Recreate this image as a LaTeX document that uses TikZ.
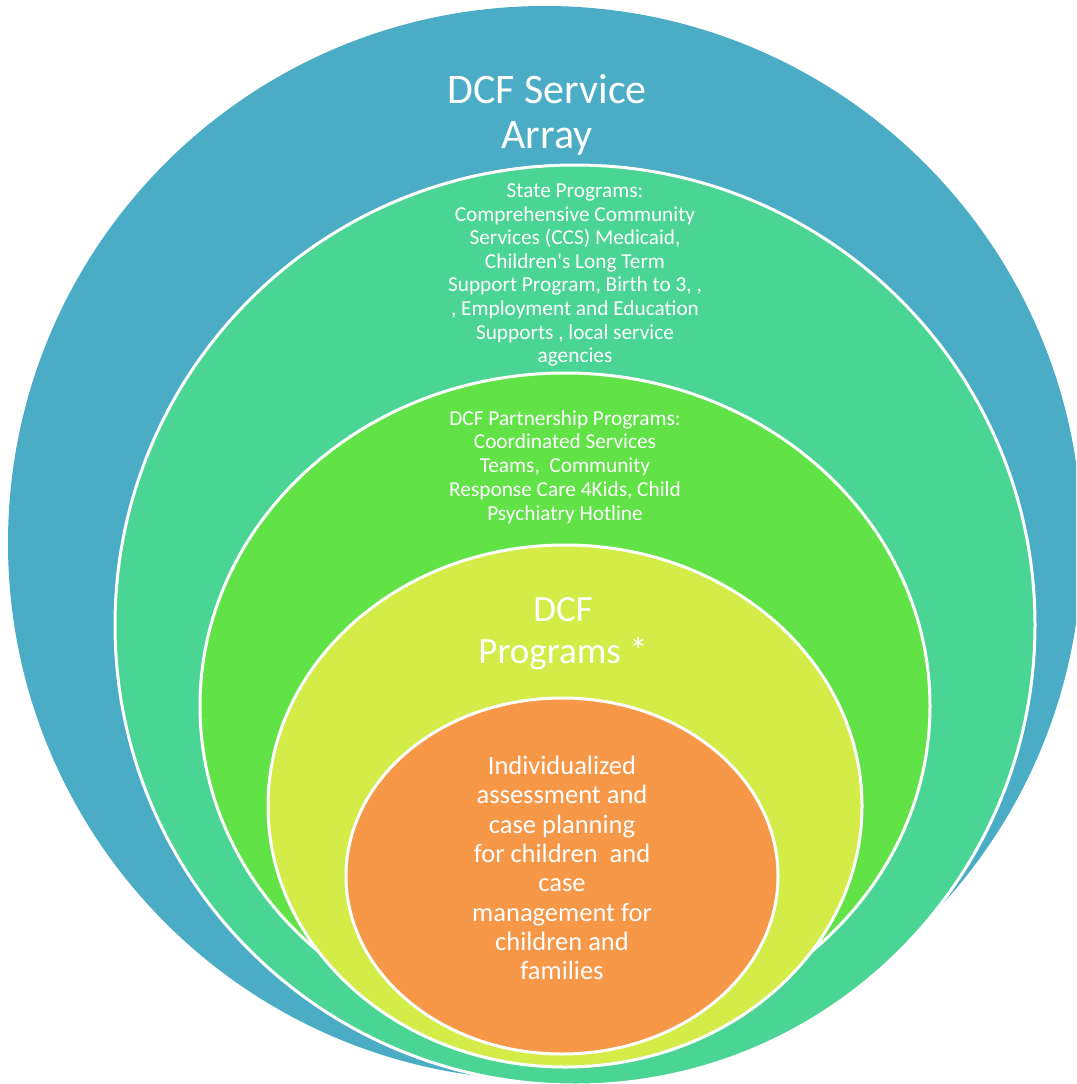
\documentclass[tikz,border=0pt]{standalone}
\usepackage{fontspec}
\setmainfont{Carlito}[Ligatures=TeXOff]
\definecolor{cblue}{HTML}{4BACC6}
\definecolor{cteal}{HTML}{4AD594}
\definecolor{cgreen}{HTML}{61E348}
\definecolor{cyellow}{HTML}{D4EC48}
\definecolor{corange}{HTML}{F79748}
\begin{document}
\begin{tikzpicture}[x=1pt,y=-1pt,
  ring/.style={draw=white,line width=3pt},
  lbl/.style={text=white,align=center,inner sep=0pt}]
\useasboundingbox (0,0) rectangle (1076,1084);
\clip (0,0) rectangle (1076,1084);
\fill[white] (0,0) rectangle (1076,1084);
% rings
\fill[cblue] (545,543) circle (537);
\path[ring,fill=cteal] (575,625) circle (460);
\path[ring,fill=cgreen] (565,706) ellipse [x radius=365, y radius=333];
\path[ring,fill=cyellow] (565,806) ellipse [x radius=297, y radius=261];
\path[ring,fill=corange] (562,876) ellipse [x radius=216, y radius=178];
% labels
\node[lbl,font=\fontsize{42}{45}\selectfont] (title) at (547,115) {DCF Service\\Array};
\node[lbl,font=\fontsize{21.3}{23.6}\selectfont] (state) at (575,275)
  {State Programs:\\Comprehensive Community\\Services (CCS) Medicaid,\\Children's Long Term\\Support Program, Birth to 3, ,\\, Employment and Education\\Supports , local service\\agencies};
\node[lbl,font=\fontsize{21.3}{23.7}\selectfont] (partner) at (565,467)
  {DCF Partnership Programs:\\Coordinated Services\\Teams,\ \ Community\\Response Care 4Kids, Child\\Psychiatry Hotline};
\node[lbl,font=\fontsize{37}{42}\selectfont] (dcf) at (563,634) {DCF\\Programs *};
\node[lbl,font=\fontsize{26.5}{29.3}\selectfont] (indiv) at (562,868)
  {Individualized\\assessment and\\case planning\\for children\ \ and\\case\\management for\\children and\\families};
\end{tikzpicture}
\end{document}
